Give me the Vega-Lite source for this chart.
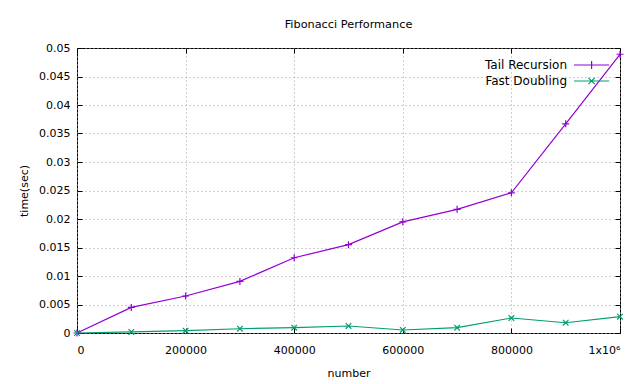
{
  "$schema": "https://vega.github.io/schema/vega-lite/v6.json",
  "width": 543,
  "height": 285,
  "autosize": {"type": "none"},
  "padding": {"left": 77, "top": 48, "right": 20, "bottom": 51},
  "background": "white",
  "title": {"text": "Fibonacci Performance", "fontSize": 11.3, "fontWeight": "normal", "font": "DejaVu Sans", "anchor": "middle", "offset": 12, "color": "#000000"},
  "config": {
    "view": {"stroke": "#000000", "strokeWidth": 1},
    "axis": {"labelFont": "DejaVu Sans", "titleFont": "DejaVu Sans", "labelFontSize": 11, "titleFontSize": 11, "titleFontWeight": "normal", "labelColor": "#000000", "titleColor": "#000000", "tickColor": "#000000", "domainColor": "#000000", "gridColor": "#a0a0a0", "gridDash": [1, 3], "gridWidth": 1},
    "legend": {"labelFont": "DejaVu Sans", "labelFontSize": 12, "labelColor": "#000000"}
  },
  "data": {"values": [
    {"number": 0, "time": 0, "series": "Tail Recursion"},
    {"number": 100000, "time": 0.00449, "series": "Tail Recursion"},
    {"number": 200000, "time": 0.00649, "series": "Tail Recursion"},
    {"number": 300000, "time": 0.00905, "series": "Tail Recursion"},
    {"number": 400000, "time": 0.0132, "series": "Tail Recursion"},
    {"number": 500000, "time": 0.0155, "series": "Tail Recursion"},
    {"number": 600000, "time": 0.0195, "series": "Tail Recursion"},
    {"number": 700000, "time": 0.0217, "series": "Tail Recursion"},
    {"number": 800000, "time": 0.0246, "series": "Tail Recursion"},
    {"number": 900000, "time": 0.0367, "series": "Tail Recursion"},
    {"number": 1000000, "time": 0.0489, "series": "Tail Recursion"},
    {"number": 0, "time": 0, "series": "Fast Doubling"},
    {"number": 100000, "time": 0.00018, "series": "Fast Doubling"},
    {"number": 200000, "time": 0.0004, "series": "Fast Doubling"},
    {"number": 300000, "time": 0.00075, "series": "Fast Doubling"},
    {"number": 400000, "time": 0.00093, "series": "Fast Doubling"},
    {"number": 500000, "time": 0.00123, "series": "Fast Doubling"},
    {"number": 600000, "time": 0.00053, "series": "Fast Doubling"},
    {"number": 700000, "time": 0.00093, "series": "Fast Doubling"},
    {"number": 800000, "time": 0.00263, "series": "Fast Doubling"},
    {"number": 900000, "time": 0.0018, "series": "Fast Doubling"},
    {"number": 1000000, "time": 0.00286, "series": "Fast Doubling"}
  ]},
  "resolve": {"axis": {"x": "independent", "y": "independent"}},
  "layer": [
    {
      "mark": {"type": "line", "strokeWidth": 1.2},
      "encoding": {
        "x": {"field": "number", "type": "quantitative", "scale": {"domain": [0, 1000000], "nice": false, "zero": false},
          "axis": {"title": "number", "values": [0, 200000, 400000, 600000, 800000, 1000000], "format": "d", "labelExpr": "datum.value == 1000000 ? '1x10⁶' : datum.label", "tickSize": -5, "labelPadding": 16, "titlePadding": 12, "grid": true, "domain": false}},
        "y": {"field": "time", "type": "quantitative", "scale": {"domain": [0, 0.05], "nice": false},
          "axis": {"title": "time(sec)", "values": [0, 0.005, 0.01, 0.015, 0.02, 0.025, 0.03, 0.035, 0.04, 0.045, 0.05], "format": "~g", "tickSize": -5, "labelPadding": 12, "titlePadding": 9, "grid": true, "domain": false}},
        "color": {"field": "series", "type": "nominal", "sort": ["Tail Recursion", "Fast Doubling"],
          "scale": {"domain": ["Tail Recursion", "Fast Doubling"], "range": ["#9400d3", "#009e73"]},
          "legend": {"title": null, "orient": "top-right", "offset": 5, "symbolSize": 256, "symbolStrokeWidth": 1.2, "symbolFillColor": "transparent", "labelAlign": "right", "labelOffset": -36, "rowPadding": 0, "padding": 3,
            "encode": {"symbols": {"update": {"shape": {"signal": "datum.value === 'Tail Recursion' ? 'M-2.5,0H1.9M-0.3,-0.5V0.5' : 'M-2.5,0H1.9M-0.7,-0.4L0.1,0.4M-0.7,0.4L0.1,-0.4'"}}}}}
        }
      }
    },
    {
      "mark": {"type": "point", "filled": false, "strokeWidth": 1.2, "size": 49, "opacity": 1},
      "encoding": {
        "x": {"field": "number", "type": "quantitative",
          "axis": {"orient": "top", "title": null, "labels": false, "values": [0, 200000, 400000, 600000, 800000, 1000000], "tickSize": -5, "grid": false, "domain": false}},
        "y": {"field": "time", "type": "quantitative",
          "axis": {"orient": "right", "title": null, "labels": false, "values": [0, 0.005, 0.01, 0.015, 0.02, 0.025, 0.03, 0.035, 0.04, 0.045, 0.05], "tickSize": -5, "grid": false, "domain": false}},
        "color": {"field": "series", "type": "nominal", "legend": null},
        "shape": {"condition": {"test": "datum.series === 'Tail Recursion'", "value": "M-1,0H1M0,-1V1"}, "value": "M-0.8,-0.8L0.8,0.8M-0.8,0.8L0.8,-0.8"}
      }
    }
  ]
}
